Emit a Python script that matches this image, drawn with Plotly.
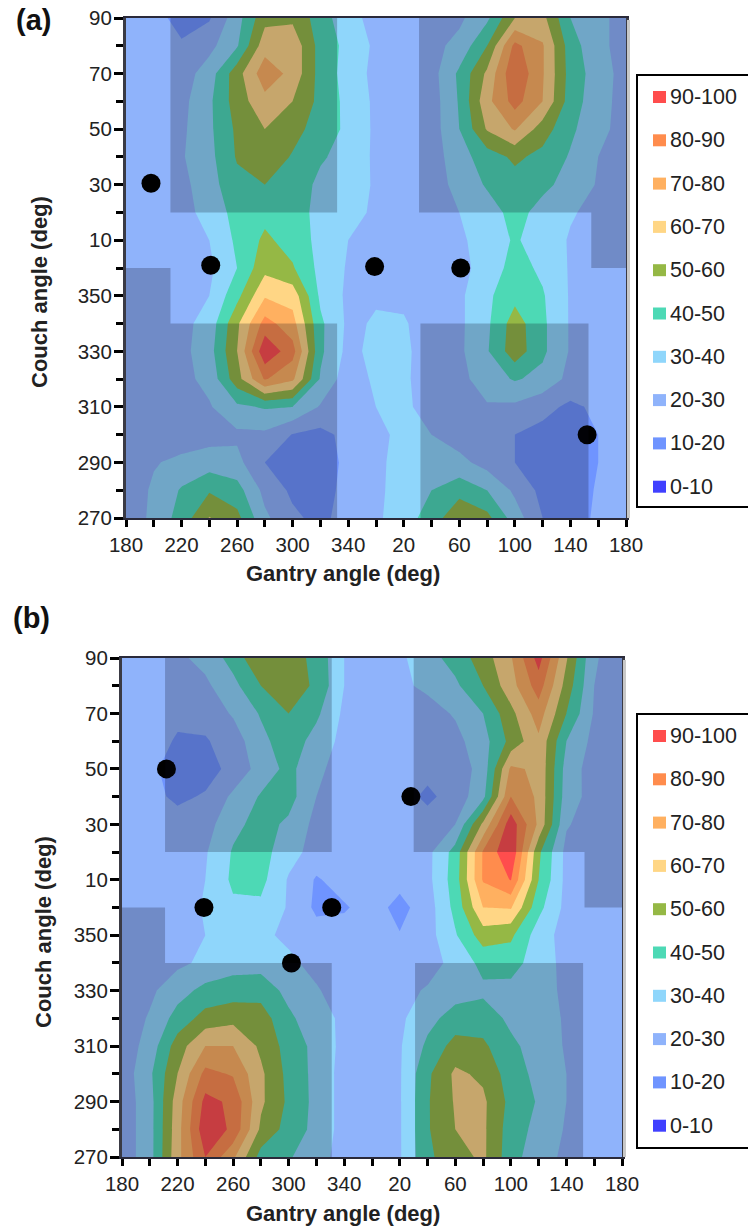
import plotly.graph_objects as go

W, H = 748, 1227
FONT = "Liberation Sans"

# Unrolled axes: gantry 180..360..180 and couch 270..360..90
gantry = list(range(180, 541, 20))
couch = list(range(90, -91, -10))
gantry_major = list(range(180, 541, 40))
gantry_labels = ["180", "220", "260", "300", "340", "20", "60", "100", "140", "180"]
gantry_minor = list(range(180, 541, 20))
couch_major = list(range(-90, 91, 20))
couch_labels = ["270", "290", "310", "330", "350", "10", "30", "50", "70", "90"]
couch_minor = list(range(-90, 91, 10))

band_labels = ["90-100", "80-90", "70-80", "60-70", "50-60", "40-50", "30-40", "20-30", "10-20", "0-10"]
band_colors = ["#ff4d4d", "#ff8c4d", "#ffb060", "#ffd685", "#95b845", "#4dd9b5", "#8fd6fb", "#8fb3fb", "#6f94ff", "#4040ff"]

# rows: couch 90, 80 ... 10, 0, 350 ... 270; columns: gantry 180, 200 ... 360 ... 160, 180
z_a = [
    [25, 23, 17, 19, 36, 57, 58, 45, 33, 27, 25, 24, 28, 38, 60, 63, 40, 32, 27],
    [25, 24, 21, 27, 39, 66, 67, 46, 37, 28, 25, 27, 33, 50, 83, 71, 45, 32, 27],
    [25, 25, 25, 35, 56, 76, 67, 46, 36, 27, 25, 26, 42, 62, 89, 71, 46, 35, 26],
    [25, 25, 27, 38, 55, 67, 60, 47, 37, 28, 25, 25, 41, 67, 84, 70, 45, 34, 26],
    [25, 26, 28, 38, 52, 60, 54, 45, 38, 28, 25, 25, 40, 61, 71, 55, 42, 33, 26],
    [25, 26, 29, 37, 51, 57, 49, 41, 37, 28, 25, 25, 36, 45, 52, 47, 39, 30, 25],
    [24, 24, 27, 36, 47, 50, 45, 38, 34, 29, 24, 24, 34, 41, 46, 42, 37, 29, 24],
    [22, 24, 27, 33, 44, 47, 43, 38, 34, 28, 24, 24, 30, 36, 43, 37, 31, 27, 23],
    [23, 25, 27, 30, 42, 52, 46, 37, 30, 26, 24, 24, 28, 35, 41, 36, 29, 26, 24],
    [25, 25, 26, 28, 40, 57, 51, 37, 29, 26, 24, 24, 27, 34, 44, 38, 29, 25, 24],
    [25, 25, 26, 30, 47, 69, 66, 38, 28, 29, 28, 25, 28, 38, 47, 41, 29, 25, 24],
    [22, 24, 27, 34, 58, 84, 74, 42, 28, 31, 31, 25, 28, 38, 55, 42, 29, 24, 23],
    [21, 23, 27, 36, 60, 98, 84, 42, 27, 33, 32, 25, 28, 39, 56, 42, 29, 24, 23],
    [21, 22, 27, 33, 56, 81, 72, 39, 24, 32, 32, 24, 27, 35, 41, 37, 27, 24, 23],
    [21, 21, 24, 29, 38, 41, 40, 29, 24, 30, 33, 24, 25, 29, 28, 23, 18, 22, 23],
    [21, 21, 23, 26, 28, 28, 19.5, 17, 23, 26, 34, 30, 25, 23, 20, 17, 15, 20, 23],
    [21, 29, 33, 35, 33, 20, 15, 14, 23, 27, 35, 35, 33, 26, 20, 13, 14, 20, 23],
    [22, 32, 41, 49, 44, 27, 18, 15, 24, 28, 34, 40, 46, 40, 28, 17, 15, 21, 23],
    [22, 33, 44, 60.5, 53, 32, 22, 17, 25, 28, 36, 44, 59, 53, 35, 20, 15, 22, 24],
]
z_b = [
    [25, 25, 28, 33, 44, 59, 55, 47, 30, 26, 28, 36, 44, 55, 69, 94, 61, 31, 25],
    [25, 24, 24, 28, 37, 50, 56, 48, 30, 26, 28, 32, 38, 50, 66, 85, 56, 30, 25],
    [25, 23, 22, 24, 31, 41, 50, 42, 28, 26, 27, 26, 31, 40, 57, 75, 50, 29, 25],
    [25, 24, 19, 19, 25, 37, 46, 36, 27, 25, 25, 25, 27, 36, 53, 68, 40, 27, 24],
    [25, 22, 16, 16, 23, 34, 43, 32, 26, 25, 24, 23, 24, 34, 72, 68, 36, 25, 24],
    [25, 23, 18, 21, 32, 41, 44, 30, 24, 24, 24, 18, 24, 37, 80, 68, 35, 26, 24],
    [25, 25, 24, 26, 37, 44, 38, 27, 25, 24, 24, 24, 30, 62, 96, 68, 31, 25, 24],
    [25, 25, 25, 29, 41, 44, 34, 26, 24, 23, 24, 27, 44, 81, 99, 52, 27, 24, 24],
    [25, 25, 25, 30, 42, 43, 29, 19, 24, 24, 23, 27, 45, 81, 90.5, 50, 27, 24, 24],
    [25, 25, 25, 31, 38, 38, 29, 18, 19, 24, 17, 25, 43, 70, 71, 43, 27, 24, 24],
    [25, 25, 24, 30, 34, 32, 28, 24, 24, 24, 20.5, 26, 39, 55, 52, 35, 26, 24, 24],
    [25, 24, 28, 32, 36, 36, 32, 27, 24, 24, 25, 26, 33, 43, 44, 35, 27, 24, 24],
    [24, 28, 36, 43, 45, 46, 37, 31, 25, 24, 27, 31, 36, 38, 37, 34, 28, 24, 24],
    [24, 31, 44, 54, 57, 55, 42, 34, 28, 24, 28, 37, 44, 45, 38, 34, 29, 24, 24],
    [24, 34, 55, 70, 70, 58, 46, 37, 27, 24, 29, 42, 54, 52, 42, 36, 29, 24, 24],
    [24, 38, 60, 83, 79, 62, 47, 37, 26, 24, 29, 48, 62, 58, 45, 37, 30, 24, 24],
    [24, 36, 65, 93, 88, 62, 48, 37, 26, 24, 29, 49, 61, 62, 47, 39, 30, 24, 24],
    [24, 36, 66, 97, 88, 58, 46, 37, 26, 24, 29, 49, 60, 62, 45, 37, 29, 24, 24],
    [24, 36, 67, 90, 72, 46, 41, 34, 26, 24, 29, 48, 56, 62, 44, 34, 28, 24, 24],
]

# beam positions (unrolled gantry, signed couch)
points_a_gantry = [198, 241, 359, 421, 512]
points_a_couch = [30.5, 1, 0.5, 0, -60]
points_b_gantry = [212, 239, 302, 331, 388]
points_b_couch = [50, 0, -20, 0, 40]

# shaded (forbidden) regions, as corner lists in axis units
shade_a = [
    [(212, 90), (332, 90), (332, 20), (212, 20)],
    [(391, 90), (540, 90), (540, 0), (515, 0), (515, 20), (391, 20)],
    [(180, 0), (212, 0), (212, -20), (332, -20), (332, -90), (180, -90)],
    [(392, -20), (513, -20), (513, -90), (392, -90)],
]
shade_b = [
    [(211, 90), (331, 90), (331, 20), (211, 20)],
    [(390, 90), (540, 90), (540, 0), (513, 0), (513, 20), (390, 20)],
    [(180, 0), (211, 0), (211, -20), (331, -20), (331, -90), (180, -90)],
    [(391, -20), (512, -20), (512, -90), (391, -90)],
]


def px(x):
    return x / W


def py(y):
    return 1 - y / H


# stepped colour scale, lowest band first
low_first = band_colors[::-1]
colorscale = []
for i, c in enumerate(low_first):
    colorscale += [[i / 10, c], [(i + 1) / 10, c]]

panels = [
    dict(z=z_a, xa="x", ya="y", xan="xaxis", yan="yaxis", box=(126, 626, 18, 518), pg=points_a_gantry, pc=points_a_couch,
         shade=shade_a, tag="(a)", tag_xy=(14, 20), ytitle_xy=(39, 292), xtitle_xy=(343, 573), leg=(637, 75, 507), leg_first=97, name="a"),
    dict(z=z_b, xa="x2", ya="y2", xan="xaxis2", yan="yaxis2", box=(122, 622, 658, 1157), pg=points_b_gantry, pc=points_b_couch,
         shade=shade_b, tag="(b)", tag_xy=(11, 618), ytitle_xy=(44, 932), xtitle_xy=(343, 1213), leg=(637, 714, 1148), leg_first=736, name="b"),
]

fig = go.Figure()
shapes, annots = [], []
layout_axes = {}
for p in panels:
    fig.add_trace(go.Contour(
        x=gantry, y=couch[::-1], z=p["z"][::-1], xaxis=p["xa"], yaxis=p["ya"],
        zmin=0, zmax=100, autocontour=False,
        contours=dict(start=0, end=100, size=10, coloring="fill", showlines=False),
        line=dict(width=0, smoothing=0), colorscale=colorscale, showscale=False, name="panel " + p["name"],
        hoverinfo="skip",
    ))
    fig.add_trace(go.Scatter(
        x=p["pg"], y=p["pc"], xaxis=p["xa"], yaxis=p["ya"], mode="markers",
        marker=dict(color="black", size=19), showlegend=False, cliponaxis=False,
    ))
    x0, x1, y0, y1 = p["box"]
    layout_axes[p["xan"]] = dict(
        domain=[px(x0), px(x1)], range=[180, 540], anchor=p["ya"], automargin=False,
        tickmode="array", tickvals=gantry_major, ticktext=gantry_labels,
        ticks="outside", ticklen=7, tickwidth=3, tickcolor="black",
        minor=dict(tickmode="array", tickvals=gantry_minor, ticks="outside", ticklen=7, tickwidth=3, tickcolor="black"),
        showgrid=False, zeroline=False, showline=True, linecolor="#2a2a3a", linewidth=2, mirror=True,
        tickfont=dict(family=FONT, size=20.5, color="#222"),
    )
    layout_axes[p["yan"]] = dict(
        domain=[py(y1), py(y0)], range=[-90, 90], anchor=p["xa"], automargin=False,
        tickmode="array", tickvals=couch_major, ticktext=couch_labels,
        ticks="outside", ticklen=9, tickwidth=3, tickcolor="black", ticklabelstandoff=-2,
        minor=dict(tickmode="array", tickvals=couch_minor, ticks="outside", ticklen=7, tickwidth=3, tickcolor="black"),
        showgrid=False, zeroline=False, showline=True, linecolor="#3a3a44", linewidth=3, mirror=True,
        tickfont=dict(family=FONT, size=20.5, color="#222"),
    )
    for poly in p["shade"]:
        path = "M " + " L ".join(f"{a} {b}" for a, b in poly) + " Z"
        shapes.append(dict(type="path", path=path, xref=p["xa"], yref=p["ya"], layer="above",
                           line=dict(width=0), fillcolor="rgba(10,10,25,0.23)"))
    # soft shadow on the right of the plot frame
    shapes.append(dict(type="rect", xref="paper", yref="paper", x0=px(x1 + 1), x1=px(x1 + 4), y0=py(y1), y1=py(y0 + 2),
                       line=dict(width=0), fillcolor="#c8c8c8"))
    annots.append(dict(text=f"<b>{p['tag']}</b>", xref="paper", yref="paper", x=px(p["tag_xy"][0]), y=py(p["tag_xy"][1]),
                       xanchor="left", yanchor="middle", showarrow=False, font=dict(family=FONT, size=29, color="#111")))
    annots.append(dict(text="<b>Couch angle (deg)</b>", xref="paper", yref="paper", x=px(p["ytitle_xy"][0]), y=py(p["ytitle_xy"][1]),
                       textangle=-90, xanchor="center", yanchor="middle", showarrow=False,
                       font=dict(family=FONT, size=22, color="#222")))
    annots.append(dict(text="<b>Gantry angle (deg)</b>", xref="paper", yref="paper", x=px(p["xtitle_xy"][0]), y=py(p["xtitle_xy"][1]),
                       xanchor="center", yanchor="middle", showarrow=False,
                       font=dict(family=FONT, size=22, color="#222")))
    # legend panel
    lx, ly0, ly1 = p["leg"]
    shapes.append(dict(type="rect", xref="paper", yref="paper", x0=px(lx), x1=px(W + 6), y0=py(ly1), y1=py(ly0),
                       line=dict(color="black", width=2), fillcolor="white"))
    for i, (lab, col) in enumerate(zip(band_labels, band_colors)):
        cy = p["leg_first"] + i * 43.3
        shapes.append(dict(type="rect", xref="paper", yref="paper", x0=px(653), x1=px(666), y0=py(cy + 6), y1=py(cy - 6),
                           line=dict(width=0), fillcolor=col))
        annots.append(dict(text=lab, xref="paper", yref="paper", x=px(668), y=py(cy), xanchor="left", yanchor="middle",
                           showarrow=False, font=dict(family=FONT, size=21.5, color="#222")))

fig.update_layout(
    width=W, height=H, margin=dict(l=0, r=0, t=0, b=0), autosize=False,
    paper_bgcolor="white", plot_bgcolor="white", showlegend=False,
    shapes=shapes, annotations=annots, **layout_axes,
)
fig.write_html("out.html", config=dict(displayModeBar=False),
               post_script="document.body.style.margin='0';document.body.style.overflow='hidden';")
